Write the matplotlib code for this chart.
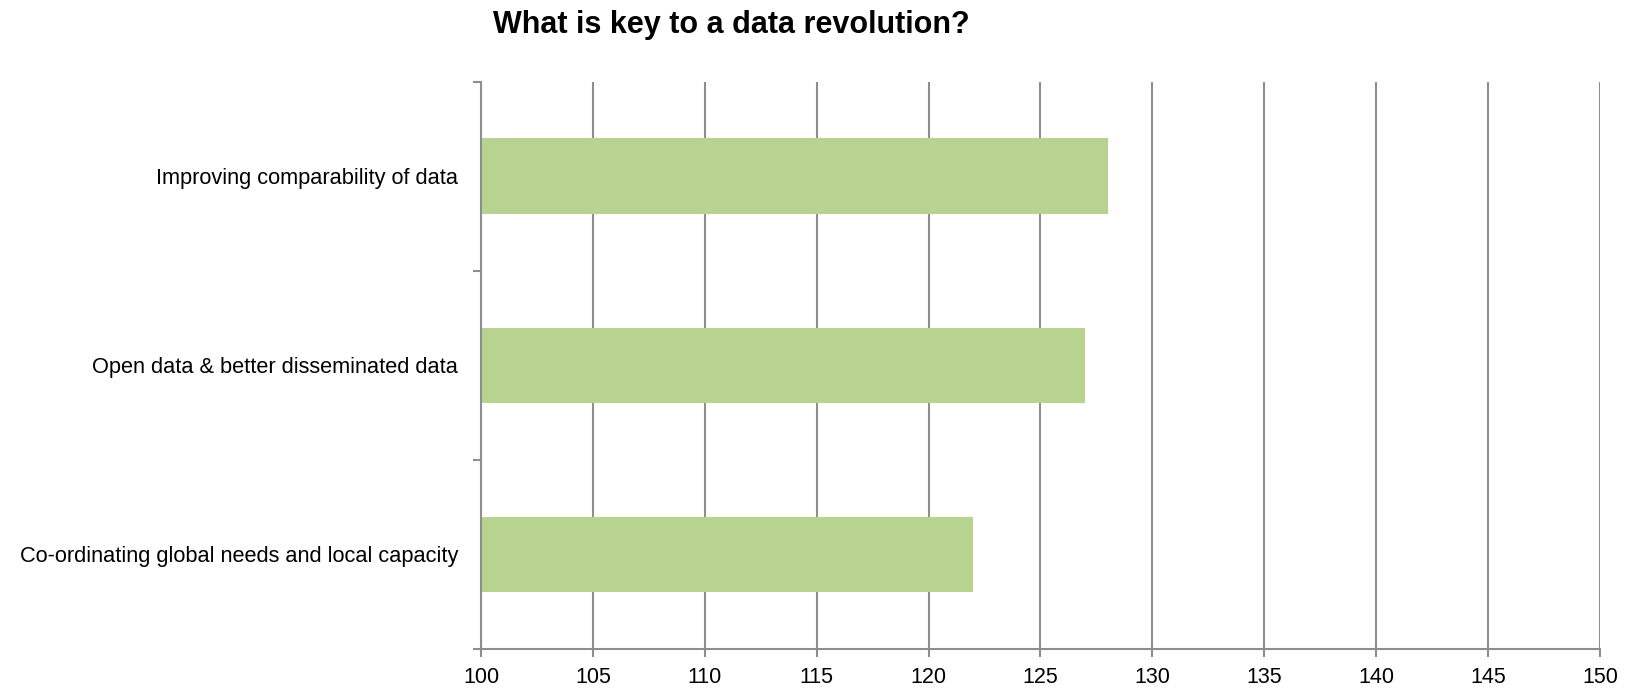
import matplotlib
matplotlib.use("Agg")
import matplotlib.pyplot as plt
from matplotlib.ticker import FixedLocator

categories = [
    "Co-ordinating global needs and local capacity",
    "Open data & better disseminated data",
    "Improving comparability of data",
]
values = [122, 127, 128]
x_ticks = [100, 105, 110, 115, 120, 125, 130, 135, 140, 145, 150]
title = "What is key to a data revolution?"

bar_color = "#b8d38f"
axis_color = "#8e8e8e"
label_font = ["Liberation Sans", "DejaVu Sans"]

fig = plt.figure(figsize=(16.31, 6.97), dpi=100)
ax = fig.add_axes([0.2949, 0.0689, 0.9810 - 0.2949, 0.8828 - 0.0689])

pos = list(range(len(categories)))
ax.barh(pos, [v - x_ticks[0] for v in values], left=x_ticks[0], height=0.4,
        color=bar_color, zorder=3)

ax.set_xlim(x_ticks[0], x_ticks[-1])
ax.set_ylim(-0.5, len(categories) - 0.5)

ax.set_xticks(x_ticks)
ax.set_xticklabels([str(t) for t in x_ticks], fontfamily=label_font, fontsize=15.5)
ax.set_yticks(pos)
ax.set_yticklabels(categories, fontfamily=label_font, fontsize=15.7)
ax.yaxis.set_minor_locator(FixedLocator([p - 0.5 for p in pos] + [pos[-1] + 0.5]))

ax.tick_params(axis="y", which="major", length=0, pad=16.5, colors="black")
ax.tick_params(axis="y", which="minor", length=5.8, width=1.5, color=axis_color)
ax.tick_params(axis="x", which="major", length=5.8, width=1.5, color=axis_color,
               pad=7, labelcolor="black")

ax.grid(axis="x", color=axis_color, linewidth=1.5, zorder=0)
ax.set_axisbelow(True)

for side in ("top", "right"):
    ax.spines[side].set_visible(False)
for side in ("left", "bottom"):
    ax.spines[side].set_color(axis_color)
    ax.spines[side].set_linewidth(1.5)
    ax.spines[side].set_zorder(4)

fig.text(731 / 1631, 1 - 33.3 / 697, title, ha="center", va="baseline",
         fontfamily=["Liberation Sans", "DejaVu Sans"], fontweight="bold", fontsize=22)

fig.savefig("out.png", dpi=100)
